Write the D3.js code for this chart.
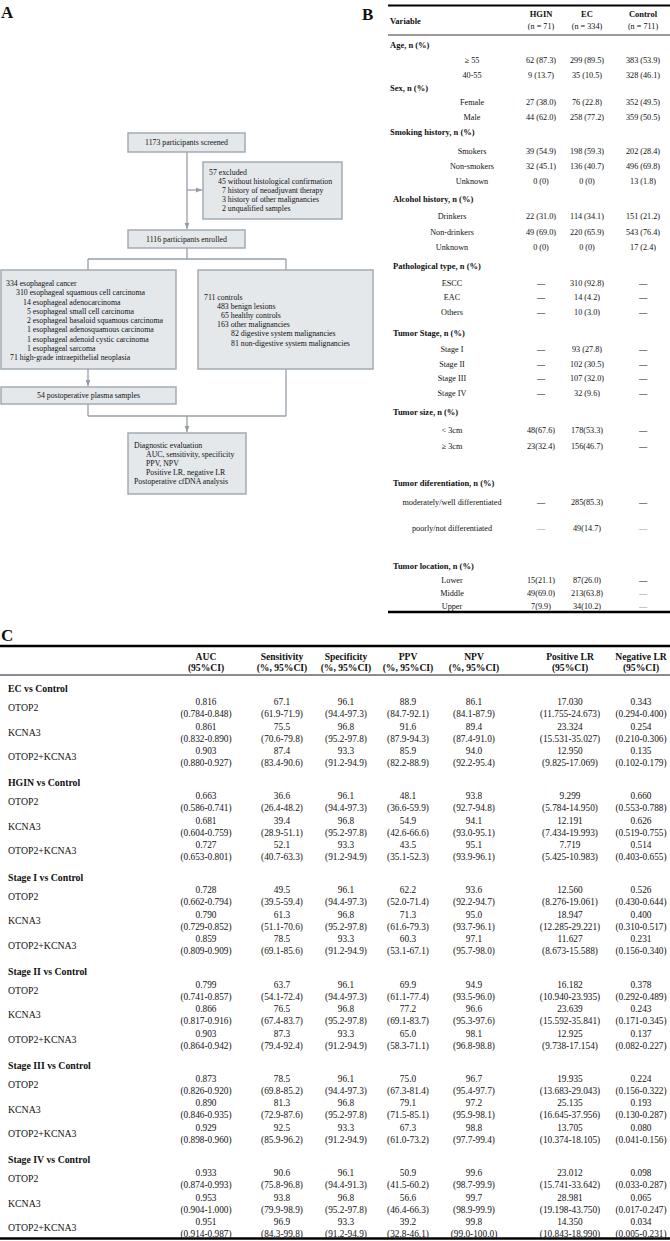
<!DOCTYPE html>
<html><head><meta charset="utf-8">
<script src="https://cdn.jsdelivr.net/npm/d3@7"></script>
<style>
body{margin:0;background:#fff}
svg{display:block}
text{font-family:"Liberation Serif","Times New Roman",serif;fill:#111}
</style>
</head><body>
<svg id="chart" width="670" height="1241"></svg>
<script>
// ---------------- DATA ----------------
// Panel A (flow chart texts)
const flowScreened = "1173 participants screened";
const flowExcluded = ["57 excluded","45 without histological confirmation","7 history of neoadjuvant therapy","3 history of other malignancies","2 unqualified samples"];
const flowEnrolled = "1116 participants enrolled";
const flowCancer = ["334 esophageal cancer","310 esophageal squamous cell carcinoma","14 esophageal adenocarcinoma","5 esophageal small cell carcinoma","2 esophageal basaloid squamous carcinoma","1 esophageal adenosquamous carcinoma","1 esophageal adenoid cystic carcinoma","1 esophageal sarcoma","71 high-grade intraepithelial neoplasia"];
const flowControls = ["711 controls","483 benign lesions","65 healthy controls","163 other malignancies","82 digestive system malignancies","81 non-digestive system malignancies"];
const flowPostop = "54 postoperative plasma samples";
const flowEval = ["Diagnostic evaluation","AUC, sensitivity, specificity","PPV, NPV","Positive LR, negative LR","Postoperative cfDNA analysis"];

// Panel B (baseline table)
const bHeaders = ["Variable","HGIN","EC","Control"];
const bHeaderN = ["(n = 71)","(n = 334)","(n = 711)"];
const bRowLabels = ["Age, n (%)","\u2265 55","40-55","Sex, n (%)","Female","Male","Smoking history, n (%)","Smokers","Non-smokers","Unknown","Alcohol history, n (%)","Drinkers","Non-drinkers","Unknown","Pathological type, n (%)","ESCC","EAC","Others","Tumor Stage, n (%)","Stage I","Stage II","Stage III","Stage IV","Tumor size, n (%)","< 3cm","\u2265 3cm","Tumor diferentiation, n (%)","moderately/well differentiated","poorly/not differentiated","Tumor location, n (%)","Lower","Middle","Upper"];
const hginValues = [null,"62 (87.3)","9 (13.7)",null,"27 (38.0)","44 (62.0)",null,"39 (54.9)","32 (45.1)","0 (0)",null,"22 (31.0)","49 (69.0)","0 (0)",null,"\u2014","\u2014","\u2014",null,"\u2014","\u2014","\u2014","\u2014",null,"48(67.6)","23(32.4)",null,"\u2014","\u2014",null,"15(21.1)","49(69.0)","7(9.9)"];
const ecValues = [null,"299 (89.5)","35 (10.5)",null,"76 (22.8)","258 (77.2)",null,"198 (59.3)","136 (40.7)","0 (0)",null,"114 (34.1)","220 (65.9)","0 (0)",null,"310 (92.8)","14 (4.2)","10 (3.0)",null,"93 (27.8)","102 (30.5)","107 (32.0)","32 (9.6)",null,"178(53.3)","156(46.7)",null,"285(85.3)","49(14.7)",null,"87(26.0)","213(63.8)","34(10.2)"];
const controlValues = [null,"383 (53.9)","328 (46.1)",null,"352 (49.5)","359 (50.5)",null,"202 (28.4)","496 (69.8)","13 (1.8)",null,"151 (21.2)","543 (76.4)","17 (2.4)",null,"\u2014","\u2014","\u2014",null,"\u2014","\u2014","\u2014","\u2014",null,"\u2014","\u2014",null,"\u2014","\u2014",null,"\u2014","\u2014","\u2014"];

// Panel C (diagnostic performance table)
const cHeaderTop = ["AUC","Sensitivity","Specificity","PPV","NPV","Positive LR","Negative LR"];
const cHeaderBottom = ["(95%CI)","(%, 95%CI)","(%, 95%CI)","(%, 95%CI)","(%, 95%CI)","(95%CI)","(95%CI)"];
const cGroups = ["EC vs Control","HGIN vs Control","Stage I vs Control","Stage II vs Control","Stage III vs Control","Stage IV vs Control"];
const cMarkers = ["OTOP2","KCNA3","OTOP2+KCNA3"];
const aucVal = ["0.816","0.861","0.903","0.663","0.681","0.727","0.728","0.790","0.859","0.799","0.866","0.903","0.873","0.890","0.929","0.933","0.953","0.951"];
const aucCI = ["(0.784-0.848)","(0.832-0.890)","(0.880-0.927)","(0.586-0.741)","(0.604-0.759)","(0.653-0.801)","(0.662-0.794)","(0.729-0.852)","(0.809-0.909)","(0.741-0.857)","(0.817-0.916)","(0.864-0.942)","(0.826-0.920)","(0.846-0.935)","(0.898-0.960)","(0.874-0.993)","(0.904-1.000)","(0.914-0.987)"];
const sensVal = ["67.1","75.5","87.4","36.6","39.4","52.1","49.5","61.3","78.5","63.7","76.5","87.3","78.5","81.3","92.5","90.6","93.8","96.9"];
const sensCI = ["(61.9-71.9)","(70.6-79.8)","(83.4-90.6)","(26.4-48.2)","(28.9-51.1)","(40.7-63.3)","(39.5-59.4)","(51.1-70.6)","(69.1-85.6)","(54.1-72.4)","(67.4-83.7)","(79.4-92.4)","(69.8-85.2)","(72.9-87.6)","(85.9-96.2)","(75.8-96.8)","(79.9-98.9)","(84.3-99.8)"];
const specVal = ["96.1","96.8","93.3","96.1","96.8","93.3","96.1","96.8","93.3","96.1","96.8","93.3","96.1","96.8","93.3","96.1","96.8","93.3"];
const specCI = ["(94.4-97.3)","(95.2-97.8)","(91.2-94.9)","(94.4-97.3)","(95.2-97.8)","(91.2-94.9)","(94.4-97.3)","(95.2-97.8)","(91.2-94.9)","(94.4-97.3)","(95.2-97.8)","(91.2-94.9)","(94.4-97.3)","(95.2-97.8)","(91.2-94.9)","(94.4-91.3)","(95.2-97.8)","(91.2-94.9)"];
const ppvVal = ["88.9","91.6","85.9","48.1","54.9","43.5","62.2","71.3","60.3","69.9","77.2","65.0","75.0","79.1","67.3","50.9","56.6","39.2"];
const ppvCI = ["(84.7-92.1)","(87.9-94.3)","(82.2-88.9)","(36.6-59.9)","(42.6-66.6)","(35.1-52.3)","(52.0-71.4)","(61.6-79.3)","(53.1-67.1)","(61.1-77.4)","(69.1-83.7)","(58.3-71.1)","(67.3-81.4)","(71.5-85.1)","(61.0-73.2)","(41.5-60.2)","(46.4-66.3)","(32.8-46.1)"];
const npvVal = ["86.1","89.4","94.0","93.8","94.1","95.1","93.6","95.0","97.1","94.9","96.6","98.1","96.7","97.2","98.8","99.6","99.7","99.8"];
const npvCI = ["(84.1-87.9)","(87.4-91.0)","(92.2-95.4)","(92.7-94.8)","(93.0-95.1)","(93.9-96.1)","(92.2-94.7)","(93.7-96.1)","(95.7-98.0)","(93.5-96.0)","(95.3-97.6)","(96.8-98.8)","(95.4-97.7)","(95.9-98.1)","(97.7-99.4)","(98.7-99.9)","(98.9-99.9)","(99.0-100.0)"];
const plrVal = ["17.030","23.324","12.950","9.299","12.191","7.719","12.560","18.947","11.627","16.182","23.639","12.925","19.935","25.135","13.705","23.012","28.981","14.350"];
const plrCI = ["(11.755-24.673)","(15.531-35.027)","(9.825-17.069)","(5.784-14.950)","(7.434-19.993)","(5.425-10.983)","(8.276-19.061)","(12.285-29.221)","(8.673-15.588)","(10.940-23.935)","(15.592-35.841)","(9.738-17.154)","(13.683-29.043)","(16.645-37.956)","(10.374-18.105)","(15.741-33.642)","(19.198-43.750)","(10.843-18.990)"];
const nlrVal = ["0.343","0.254","0.135","0.660","0.626","0.514","0.526","0.400","0.231","0.378","0.243","0.137","0.224","0.193","0.080","0.098","0.065","0.034"];
const nlrCI = ["(0.294-0.400)","(0.210-0.306)","(0.102-0.179)","(0.553-0.788)","(0.519-0.755)","(0.403-0.655)","(0.430-0.644)","(0.310-0.517)","(0.156-0.340)","(0.292-0.489)","(0.171-0.345)","(0.082-0.227)","(0.156-0.322)","(0.130-0.287)","(0.041-0.156)","(0.033-0.287)","(0.017-0.247)","(0.005-0.231)"];

// ---------------- DRAWING ----------------
const svg = d3.select("#chart");
const W = 670, H = 1241;

// panel letters
svg.append("text").attr("x",1).attr("y",18).attr("font-size",17).attr("font-weight","bold").text("A");
svg.append("text").attr("x",362).attr("y",20).attr("font-size",17).attr("font-weight","bold").text("B");
svg.append("text").attr("x",1).attr("y",641).attr("font-size",17).attr("font-weight","bold").text("C");

// ---- Panel A: flow chart ----
const gA = svg.append("g");
const boxFill = "#e4e8eb", boxStroke = "#a3abb3", lineCol = "#959ea6";
const fsA = 7.8;
const defs = svg.append("defs");
defs.append("marker").attr("id","arr").attr("viewBox","0 0 10 10").attr("refX",10).attr("refY",5)
  .attr("markerWidth",5).attr("markerHeight",5).attr("orient","auto")
  .append("path").attr("d","M0,1L10,5L0,9Z").attr("fill",lineCol);

function box(x0,y0,x1,y1){
  gA.append("rect").attr("x",x0).attr("y",y0).attr("width",x1-x0).attr("height",y1-y0)
    .attr("fill",boxFill).attr("stroke",boxStroke).attr("stroke-width",1.5);
}
function line(pts, arrow){
  const p = gA.append("path").attr("d",d3.line()(pts)).attr("fill","none")
    .attr("stroke",lineCol).attr("stroke-width",1.3);
  if(arrow) p.attr("marker-end","url(#arr)");
}
function centered(t,cx,cy){
  gA.append("text").attr("x",cx).attr("y",cy+fsA*0.33).attr("text-anchor","middle").attr("font-size",fsA).text(t);
}
function lines(arr, xs, y0, dy){
  gA.selectAll(null).data(arr).enter().append("text")
    .attr("x",(d,i)=>xs[i]).attr("y",(d,i)=>y0+i*dy+fsA*0.33).attr("font-size",fsA).text(d=>d);
}

// connectors
line([[187,152],[187,229]],true);
line([[187,190],[202,190]],true);
line([[187,248],[187,259]]);
line([[88,259],[286,259]]);
line([[88,259],[88,270]]);
line([[286,259],[286,270]]);
line([[88,369],[88,386]],true);
line([[88,404],[88,416]]);
line([[286,369],[286,416]]);
line([[88,416],[286,416]]);
line([[187,416],[187,432]],true);

box(128,133,245,152); centered(flowScreened,186.5,142.5);
box(203,162,342,219);
lines(flowExcluded,[209,218,222,222,222],172.5,9.1);
box(128,230,245,248); centered(flowEnrolled,186.5,239);
box(1,270,176,369);
lines(flowCancer,[6,16,23,27,27,27,27,27,10],283.5,9.25);
box(198,270,373,369);
lines(flowControls,[204,217,221,217,231,231],297,9.2);
box(1,387,176,404); centered(flowPostop,88.5,395.5);
box(128,433,246,494);
lines(flowEval,[134,146,146,146,134],445.5,9.1);

// ---- Panel B: table ----
const gB = svg.append("g");
const fsB = 8.2;
const bCols = d3.scaleOrdinal().domain(["HGIN","EC","Control"]).range([541,587,643]);
const bRowY = d3.scaleOrdinal().domain(d3.range(bRowLabels.length))
  .range([45,60,75,88,102,117,132,151,166,181,199,216,232,247,266,283,297,312,333,349,364,378,393,412,430,446,483,502,528,566,580,593,606]);
const bX0 = 388, bX1 = 670;
gB.append("line").attr("x1",bX0).attr("x2",bX1).attr("y1",5.5).attr("y2",5.5).attr("stroke","#000").attr("stroke-width",2.2);
gB.append("line").attr("x1",bX0).attr("x2",bX1).attr("y1",35).attr("y2",35).attr("stroke","#000").attr("stroke-width",0.8);
gB.append("line").attr("x1",bX0).attr("x2",bX1).attr("y1",612).attr("y2",612).attr("stroke","#000").attr("stroke-width",2.4);
gB.append("text").attr("x",390).attr("y",24).attr("font-size",fsB+0.3).attr("font-weight","bold").text(bHeaders[0]);
["HGIN","EC","Control"].forEach((k,i)=>{
  gB.append("text").attr("x",bCols(k)).attr("y",17).attr("text-anchor","middle").attr("font-size",fsB+0.3).attr("font-weight","bold").text(bHeaders[i+1]);
  gB.append("text").attr("x",bCols(k)).attr("y",29).attr("text-anchor","middle").attr("font-size",fsB).text(bHeaderN[i]);
});
const colVals = {HGIN:hginValues, EC:ecValues, Control:controlValues};
bRowLabels.forEach((lab,i)=>{
  const y = bRowY(i) + fsB*0.33;
  const isHead = hginValues[i]===null;
  if(isHead){
    gB.append("text").attr("x",i<10?390:393).attr("y",y).attr("font-size",fsB+0.3).attr("font-weight","bold").text(lab);
  } else {
    gB.append("text").attr("x",i<10?472:452).attr("y",y).attr("text-anchor","middle").attr("font-size",fsB).text(lab);
    ["HGIN","EC","Control"].forEach(k=>{
      const v = colVals[k][i];
      const t = gB.append("text").attr("x",bCols(k)).attr("y",y).attr("text-anchor","middle").attr("font-size",fsB).text(v);
      if(v==="\u2014"){
        if(i===28 || (k==="Control" && i>=31)) t.style("fill","#9a9a9a");
        else if(i>=20 && i<=22) t.attr("font-weight","bold");
      }
    });
  }
});

// ---- Panel C: table ----
const gC = svg.append("g");
const fsC = 9.3, fsL = 9.8;
const cKeys = ["auc","sens","spec","ppv","npv","plr","nlr"];
const cX = d3.scaleOrdinal().domain(cKeys).range([206,282,346,408,474,570,641]);
const cVals = {auc:[aucVal,aucCI],sens:[sensVal,sensCI],spec:[specVal,specCI],ppv:[ppvVal,ppvCI],npv:[npvVal,npvCI],plr:[plrVal,plrCI],nlr:[nlrVal,nlrCI]};
const groupY = d3.scaleLinear().domain([0,cGroups.length-1]).range([689,1160]);
const rowPitch = 24.5;
gC.append("line").attr("x1",0).attr("x2",W).attr("y1",646).attr("y2",646).attr("stroke","#000").attr("stroke-width",2.6);
gC.append("line").attr("x1",0).attr("x2",W).attr("y1",675).attr("y2",675).attr("stroke","#000").attr("stroke-width",0.9);
gC.append("line").attr("x1",0).attr("x2",W).attr("y1",1238.5).attr("y2",1238.5).attr("stroke","#000").attr("stroke-width",2.6);
cKeys.forEach((k,i)=>{
  gC.append("text").attr("x",cX(k)).attr("y",657+fsC*0.33).attr("text-anchor","middle").attr("font-size",9.6).attr("font-weight","bold").text(cHeaderTop[i]);
  gC.append("text").attr("x",cX(k)).attr("y",668+fsC*0.33).attr("text-anchor","middle").attr("font-size",9.6).attr("font-weight","bold").text(cHeaderBottom[i]);
});
cGroups.forEach((g,gi)=>{
  const gy = groupY(gi);
  gC.append("text").attr("x",8).attr("y",gy+fsL*0.33).attr("font-size",fsL).attr("font-weight","bold").text(g);
  cMarkers.forEach((m,mi)=>{
    const idx = gi*3+mi;
    const vy = gy + 13 + mi*rowPitch;
    gC.append("text").attr("x",8).attr("y",vy+6+fsL*0.33).attr("font-size",fsL).text(m);
    cKeys.forEach(k=>{
      gC.append("text").attr("x",cX(k)).attr("y",vy+fsC*0.33).attr("text-anchor","middle").attr("font-size",fsC).text(cVals[k][0][idx]);
      gC.append("text").attr("x",cX(k)).attr("y",vy+12+fsC*0.33).attr("text-anchor","middle").attr("font-size",fsC).text(cVals[k][1][idx]);
    });
  });
});
</script>
</body></html>
